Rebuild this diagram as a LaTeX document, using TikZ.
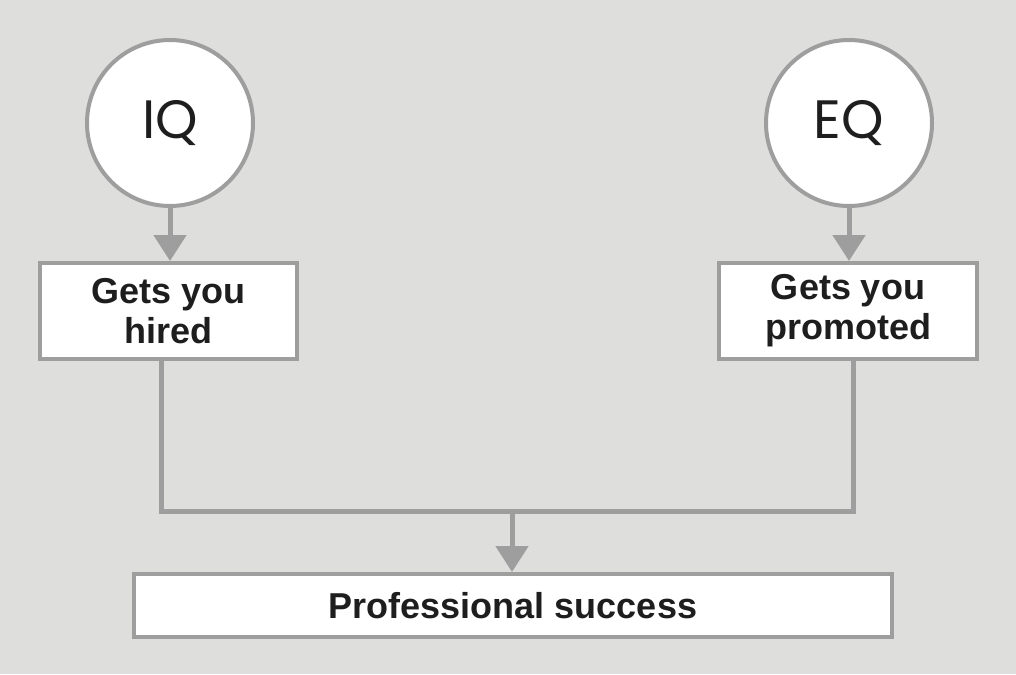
\documentclass[tikz,border=0pt]{standalone}
\usepackage{fontspec}
\setmainfont{Liberation Sans}
\newfontfamily\geo{Poppins}
\usetikzlibrary{arrows.meta}
\definecolor{bg}{HTML}{DEDEDD}
\definecolor{edge}{HTML}{9E9E9E}
\definecolor{ink}{HTML}{1E1E1E}
\tikzset{
  x=1pt,y=1pt,
  circ/.style={circle,draw=edge,line width=4pt,fill=white,minimum size=166pt,inner sep=0pt,font=\geo\fontsize{54}{54}\selectfont,text=ink},
  box/.style={rectangle,draw=edge,line width=4pt,fill=white,inner sep=0pt,align=center,font=\bfseries\fontsize{36}{40}\selectfont,text=ink},
  conn/.style={draw=edge,line width=5pt},
  arr/.style={conn,-{Triangle[length=26pt,width=32pt]}},
}
\begin{document}
\begin{tikzpicture}
\fill[bg] (0,0) rectangle (1016,-674);
\useasboundingbox (0,0) rectangle (1016,-674);
\node[circ] (iq) at (170,-123) {IQ};
\node[circ] (eq) at (849,-123) {EQ};
\node[box,minimum width=257pt,minimum height=96pt] (hired) at (168.5,-311) {Gets you\\hired};
\node[box,minimum width=258pt,minimum height=96pt] (prom) at (848,-311) {Gets you\\promoted};
\node[box,minimum width=758pt,minimum height=63pt] (succ) at (513,-605.5) {Professional success};
\coordinate (j) at (512,-511);
\draw[arr] (iq.south) -- (iq.south |- hired.north);
\draw[arr] (eq.south) -- (eq.south |- prom.north);
\draw[conn] ([xshift=-7pt]hired.south) |- ([xshift=5pt]prom.south |- j) -- ([xshift=5pt]prom.south);
\draw[arr] (j) -- (j |- succ.north);
\end{tikzpicture}
\end{document}
